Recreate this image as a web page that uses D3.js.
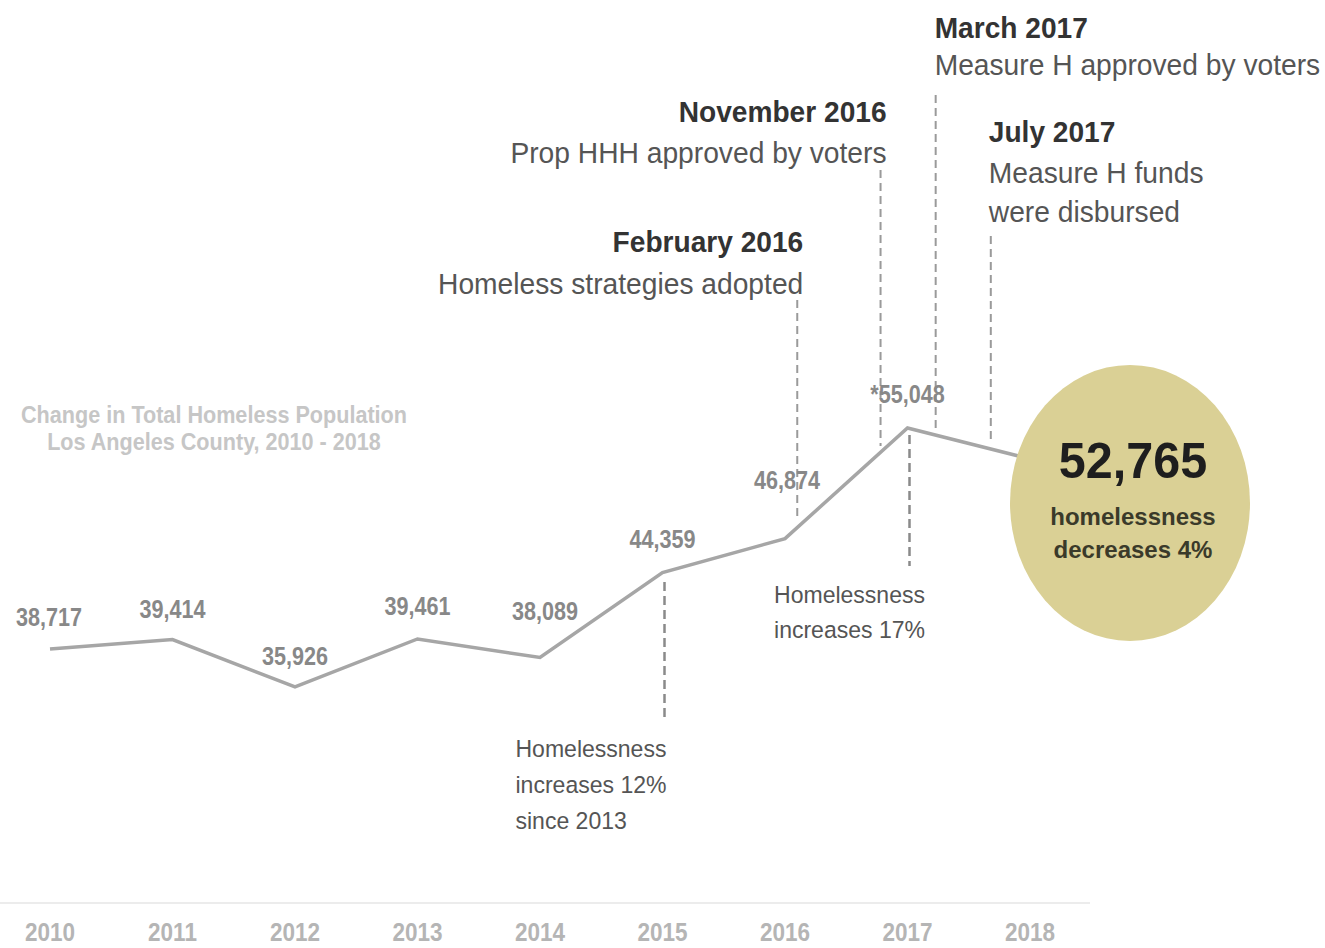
<!DOCTYPE html>
<html>
<head>
<meta charset="utf-8">
<script src="https://cdn.jsdelivr.net/npm/d3@7"></script>
<style>
  html, body { margin: 0; padding: 0; background: #fff; }
  svg { display: block; }
  text { font-family: "Liberation Sans", Arial, sans-serif; }
</style>
</head>
<body>
<svg id="chart" width="1325" height="948"></svg>
<script>
// ---- data ----
const years = [2010, 2011, 2012, 2013, 2014, 2015, 2016, 2017, 2018];
const counts = [38717, 39414, 35926, 39461, 38089, 44359, 46874, 55048, 52765];
const countLabels = ["38,717", "39,414", "35,926", "39,461", "38,089", "44,359", "46,874", "*55,048", "52,765"];
const titleLines = ["Change in Total Homeless Population", "Los Angeles County, 2010 - 2018"];
const eventDates = [2016.1, 2016.78, 2017.23, 2017.68];
const eventTitles = ["February 2016", "November 2016", "March 2017", "July 2017"];
const eventTexts = [["Homeless strategies adopted"], ["Prop HHH approved by voters"], ["Measure H approved by voters"], ["Measure H funds", "were disbursed"]];
const changeYears = [2015, 2017, 2018];
const changeTexts = [["Homelessness", "increases 12%", "since 2013"], ["Homelessness", "increases 17%"], ["homelessness", "decreases 4%"]];

const svg = d3.select("#chart");
const x = d3.scaleLinear().domain([2010, 2018]).range([50, 1030]);
const y = d3.scaleLinear().domain([30000, 60000]).range([767, 361]);

// helper: horizontally condensed text
function label(parent, px, py, str, o) {
  const g = parent.append("g").attr("transform", `translate(${px},${py}) scale(${o.sx || 1},1)`);
  return g.append("text").attr("x", 0).attr("y", 0)
    .attr("text-anchor", o.anchor || "start")
    .attr("font-size", o.size).attr("font-weight", o.weight || "normal")
    .attr("fill", o.fill).text(str);
}

// baseline rule
svg.append("line").attr("x1", 0).attr("x2", 1090).attr("y1", 903).attr("y2", 903)
  .attr("stroke", "#ececec").attr("stroke-width", 2);

// year labels
years.forEach(d => label(svg, x(d), 941, d, {size: 25, weight: "bold", fill: "#b5b5b5", sx: 0.9, anchor: "middle"}));

// title
titleLines.forEach((t, i) => label(svg, 214, 423 + i * 27, t, {size: 24, weight: "bold", fill: "#c6c6c6", sx: 0.9, anchor: "middle"}));

// event dashed lines (above line)
const evTop = [300, 170, 95, 236];
const evBottom = [518, 446, 430, 440];
svg.selectAll(".evl").data(eventDates).enter().append("line")
  .attr("x1", d => x(d)).attr("x2", d => x(d))
  .attr("y1", (d, i) => evTop[i]).attr("y2", (d, i) => evBottom[i])
  .attr("stroke", "#9a9a9a").attr("stroke-width", 2).attr("stroke-dasharray", "8,5");

// change dashed lines (below line)
const chTop = [582, 435];
const chBottom = [722, 566];
svg.selectAll(".chl").data(changeYears.slice(0, 2)).enter().append("line")
  .attr("x1", d => x(d) + 2).attr("x2", d => x(d) + 2)
  .attr("y1", (d, i) => chTop[i]).attr("y2", (d, i) => chBottom[i])
  .attr("stroke", "#8a8a8a").attr("stroke-width", 2.5).attr("stroke-dasharray", "9,5");

// the line
const line = d3.line().x((d, i) => x(years[i])).y(d => y(d));
svg.append("path").datum(counts).attr("d", line)
  .attr("fill", "none").attr("stroke", "#a6a6a6").attr("stroke-width", 3.5)
  .attr("stroke-linejoin", "miter");

// data labels
const lblDx = [-1, 0, 0, 0, 5, 0, 2, 0];
const lblDy = [-23, -22, -22, -24, -38, -25, -50, -25];
counts.slice(0, 8).forEach((d, i) =>
  label(svg, x(years[i]) + lblDx[i], y(d) + lblDy[i], countLabels[i],
    {size: 26, weight: "bold", fill: "#888", sx: 0.83, anchor: "middle"}));

// event texts
const evAnchor = ["end", "end", "start", "start"];
const evDx = [6, 6, -1, -2];
const evTitleY = [252, 122, 38, 142];
const evGap = [42, 41, 37, 41];
evTitleY.forEach((ty, i) => {
  const ex = x(eventDates[i]) + evDx[i];
  label(svg, ex, ty, eventTitles[i], {size: 29, weight: "bold", fill: "#333", sx: 0.97, anchor: evAnchor[i]});
  eventTexts[i].forEach((t, j) =>
    label(svg, ex, ty + evGap[i] + j * 39, t, {size: 30, fill: "#555", sx: 0.94, anchor: evAnchor[i]}));
});

// change annotations below
changeTexts[0].forEach((t, i) => label(svg, x(2015) - 147, 757 + i * 36, t, {size: 23.5, fill: "#555", sx: 0.98}));
changeTexts[1].forEach((t, i) => label(svg, x(2017) - 58, 603 + i * 35, t, {size: 23.5, fill: "#555", sx: 0.98, anchor: "middle"}));

// 2018 circle
const cx = x(2018) + 100, cy = y(counts[8]) + 44;
svg.append("ellipse").attr("cx", cx).attr("cy", cy).attr("rx", 120).attr("ry", 138)
  .attr("fill", "#dad095");
label(svg, cx + 3, 478, countLabels[8], {size: 50, weight: "bold", fill: "#1e1e1e", sx: 0.97, anchor: "middle"});
changeTexts[2].forEach((t, i) => label(svg, cx + 3, 525 + i * 33, t, {size: 24, weight: "bold", fill: "#3a3a2a", sx: 1, anchor: "middle"}));
</script>
</body>
</html>
